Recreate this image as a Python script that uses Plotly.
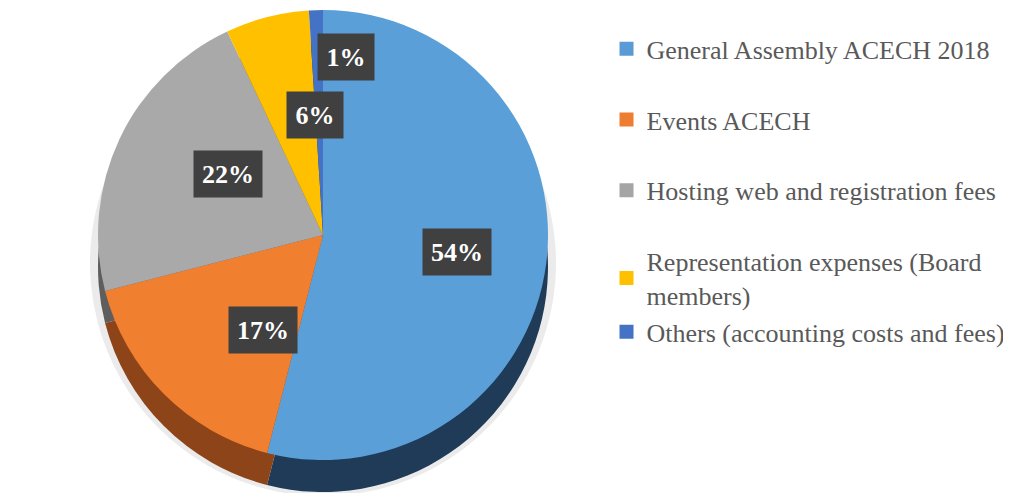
import plotly.graph_objects as go
import math

# ---- data ----
categories = [
    "General Assembly ACECH 2018",
    "Events ACECH",
    "Hosting web and registration fees",
    "Representation expenses (Board<br>members)",
    "Others (accounting costs and fees)",
]
values = [54, 17, 22, 6, 1]

# ---- styles ----
top_colors = ["#5A9FD7", "#F07F2F", "#A9A9A9", "#FFC000", "#4472C4"]
side_colors = ["#1F3B57", "#8C4418", "#5E5E5E", "#8A6A00", "#22396A"]
legend_colors = ["#5B9BD5", "#ED7D31", "#A5A5A5", "#FFC000", "#4472C4"]
label_radius = [0.6, 0.6, 0.64, 0.66, 0.9]

W, H = 1011, 493
D = 450          # pie diameter in px
cx, top = 315, 2  # pie centre x, top y (px)
depth = 32

def clamp(v):
    return max(0.0, min(1.0, v))

def dom(top_px, grow=0):
    return dict(
        x=[clamp((cx - D / 2 - grow) / W), clamp((cx + D / 2 + grow) / W)],
        y=[clamp(1 - (top_px + D + grow) / H), clamp(1 - (top_px - grow) / H)],
    )

fig = go.Figure()

# soft shadow
fig.add_trace(go.Pie(
    values=values, labels=categories, sort=False, direction="clockwise",
    marker=dict(colors=["#EBEBEB"] * len(values), line=dict(width=0)),
    textinfo="none", hoverinfo="skip", showlegend=False,
    domain=dom(top + depth - 4, grow=8),
))
# side (depth)
fig.add_trace(go.Pie(
    values=values, labels=categories, sort=False, direction="clockwise",
    marker=dict(colors=side_colors, line=dict(width=0)),
    textinfo="none", hoverinfo="skip", showlegend=False,
    domain=dom(top + depth),
))
# top face
fig.add_trace(go.Pie(
    values=values, labels=categories, sort=False, direction="clockwise",
    marker=dict(colors=top_colors, line=dict(width=0)),
    textinfo="none", hoverinfo="label+percent", showlegend=False,
    domain=dom(top),
))

# legend entries
for i, (name, col) in enumerate(zip(categories, legend_colors)):
    grp = "g%d" % min(i, 3)
    fig.add_trace(go.Scatter(
        x=[None], y=[None], mode="markers", name=name, legendgroup=grp,
        marker=dict(symbol="square", size=14, color=col),
    ))

# percentage labels in dark boxes
total = sum(values)
cum = 0
cy = top + D / 2
label_font = "Palatino Linotype, Book Antiqua, Liberation Serif, serif"
for v, rf in zip(values, label_radius):
    mid = (cum + v / 2) / total * 2 * math.pi
    cum += v
    r = rf * D / 2
    px = cx + r * math.sin(mid)
    py = cy - r * math.cos(mid)
    txt = "<b>%d%%</b>" % round(v / total * 100)
    fig.add_annotation(
        text=txt, x=px / W, y=1 - py / H, xref="paper", yref="paper",
        showarrow=False, borderpad=7, width=54 if v >= 10 else 42, height=32,
        bgcolor="#404040",
        font=dict(family=label_font, size=26, color="white"),
    )

fig.update_layout(
    width=W, height=H,
    margin=dict(l=0, r=0, t=0, b=0),
    paper_bgcolor="white", plot_bgcolor="white",
    xaxis=dict(visible=False), yaxis=dict(visible=False),
    legend=dict(
        x=0.592, y=0.965, xanchor="left", yanchor="top",
        font=dict(family=label_font, size=26, color="#595959"),
        tracegroupgap=34, bgcolor="rgba(0,0,0,0)",
    ),
)

fig.write_html("out.html")
